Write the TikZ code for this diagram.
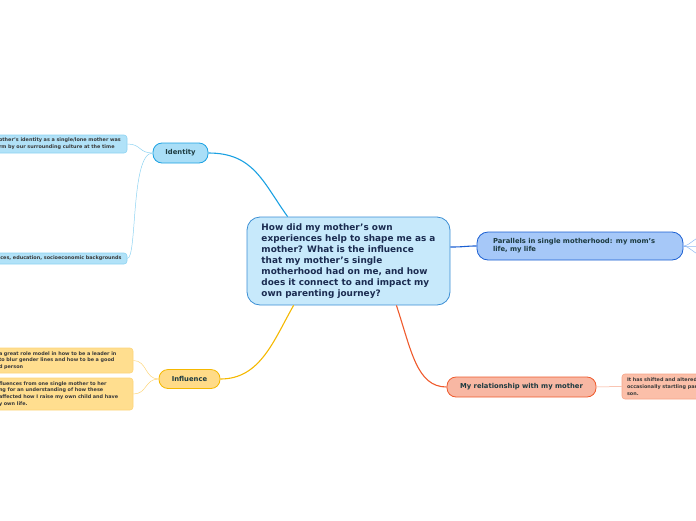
\documentclass[tikz,border=0pt]{standalone}
\usepackage{fontspec}
\setmainfont{DejaVu Sans}
\usepackage{tikz}

\definecolor{ctrfill}{HTML}{C7E9FB}
\definecolor{ctrline}{HTML}{3B8ED4}
\definecolor{ctrtext}{HTML}{1A2B50}
\definecolor{idfill}{HTML}{A9DEF7}
\definecolor{idline}{HTML}{1BA1E2}
\definecolor{idleaf}{HTML}{B1E2F8}
\definecolor{idthin}{HTML}{8DD3F2}
\definecolor{infill}{HTML}{FFDB88}
\definecolor{inline}{HTML}{F5B800}
\definecolor{inleaf}{HTML}{FFDE8F}
\definecolor{inthin}{HTML}{FDD57A}
\definecolor{pafill}{HTML}{A6C8F8}
\definecolor{paline}{HTML}{1B5FD2}
\definecolor{pathin}{HTML}{8FB8F2}
\definecolor{refill}{HTML}{F8B7A3}
\definecolor{reline}{HTML}{EF5A2C}
\definecolor{releaf}{HTML}{FBBFA9}
\definecolor{rethin}{HTML}{F6A488}
\definecolor{headtext}{HTML}{1C3A40}
\definecolor{leaftext}{HTML}{3A3A3A}

\tikzset{
  hub/.style={draw=ctrline, fill=ctrfill, line width=.8pt, rounded corners=13pt,
    text=ctrtext, font=\fontsize{8.9}{11}\selectfont\bfseries, align=left,
    minimum width=203pt, minimum height=88pt, inner sep=2pt},
  topic/.style={line width=.8pt, rounded corners=9pt, text=headtext,
    font=\fontsize{6.8}{8}\selectfont\bfseries, inner ysep=1pt},
  leaf/.style={line width=.6pt, rounded corners=3pt, text=leaftext,
    font=\fontsize{4.9}{6.8}\selectfont\bfseries, align=left, inner xsep=4pt, inner ysep=1pt},
  branch/.style={line width=1.1pt},
  twig/.style={line width=.5pt}
}

\begin{document}
\begin{tikzpicture}[x=1pt,y=-1pt]
\useasboundingbox (0,0) rectangle (696,520);
\clip (0,0) rectangle (696,520);
%% --- central question ---
\node[hub] (question) at (348.5,261) {How did my mother's own\\experiences help to shape me as a\\mother? What is the influence\\that my mother's single\\motherhood had on me, and how\\does it connect to and impact my\\own parenting journey?};
%% --- identity ---
\node[topic, draw=idline, fill=idfill, minimum width=55pt, minimum height=20pt] (identity) at (180.5,153) {Identity};
\node[leaf, draw=idthin, fill=idleaf, text width=124pt, minimum height=18pt] (idculture) at (61,144) {other's identity as a single/lone mother was\\rm by our surrounding culture at the time};
\node[leaf, draw=idthin, fill=idleaf, text width=128pt, inner xsep=2pt, minimum height=11pt] (idbackground) at (61,258.5) {\mbox{aces, education, socioeconomic backgrounds}};
%% --- influence ---
\node[topic, draw=inline, fill=infill, minimum width=61pt, minimum height=19pt] (influence) at (189.5,379) {Influence};
\node[leaf, draw=inthin, fill=inleaf, text width=130pt, minimum height=25pt] (inrole) at (64,360.5) {a great role model in how to be a leader in\\to blur gender lines and how to be a good\\d person};
\node[leaf, draw=inthin, fill=inleaf, text width=130pt, minimum height=32pt] (inchild) at (64,394) {fluences from one single mother to her\\ng for an understanding of how these\\affected how I raise my own child and have\\y own life.};
%% --- parallels ---
\node[topic, draw=paline, fill=pafill, align=left, text width=174pt, inner xsep=16pt, minimum height=28pt, rounded corners=11pt] (parallels) at (580,246) {Parallels in single motherhood: my mom's\\life, my life};
\coordinate (paup) at (704,236);
\coordinate (pamid) at (704,246);
\coordinate (padown) at (704,256);
%% --- relationship ---
\node[topic, draw=reline, fill=refill, minimum width=149pt, minimum height=20pt] (relation) at (521.5,387) {My relationship with my mother};
\node[leaf, draw=rethin, fill=releaf, text width=108pt, inner xsep=5pt, minimum height=25pt] (reshift) at (681,386.5) {It has shifted and altered\\occasionally startling par\\son.};
%% --- connectors ---
\draw[branch, idline] (identity.east) .. controls +(45,0) and +(-25,-35) .. ([xshift=41pt]question.north west);
\draw[branch, inline] (influence.east) .. controls +(40,0) and +(-20,35) .. ([xshift=47pt]question.south west);
\draw[branch, paline] ([yshift=14pt]question.east) .. controls +(15,0) and +(-12,0) .. (parallels.west);
\draw[branch, reline] ([xshift=-54pt]question.south east) .. controls +(15,45) and +(-30,0) .. (relation.west);
\draw[twig, idthin] (identity.west) .. controls +(-14,0) and +(14,0) .. (idculture.east);
\draw[twig, idthin] (identity.west) .. controls +(-22,0) and +(10,0) .. (idbackground.east);
\draw[twig, inthin] (influence.west) .. controls +(-14,0) and +(14,0) .. (inrole.east);
\draw[twig, inthin] (influence.west) .. controls +(-14,0) and +(14,0) .. (inchild.east);
\draw[twig, rethin] (relation.east) -- (reshift.west);
\foreach \tip in {paup,pamid,padown}
  \draw[twig, pathin] (parallels.east) .. controls +(6,0) and +(-8,0) .. (\tip);
\end{tikzpicture}
\end{document}
